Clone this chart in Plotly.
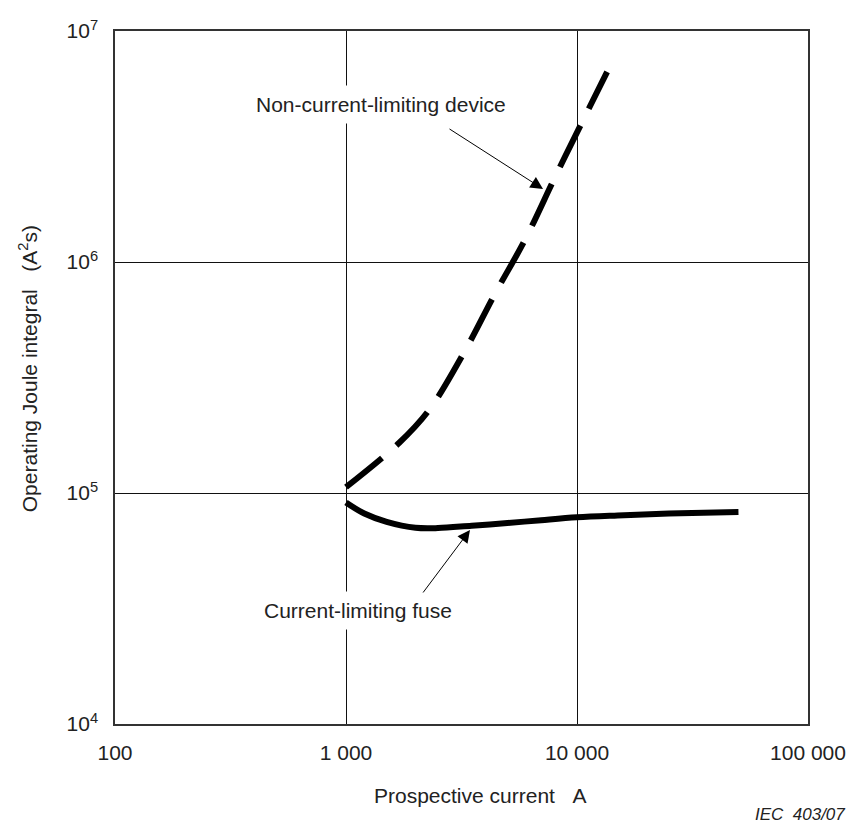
import plotly.graph_objects as go

# Data
fuse_current = [1000, 1200, 1500, 2000, 2500, 3500, 5000, 7000, 10000, 15000, 25000, 50000]
fuse_joule = [9.1e4, 8.15e4, 7.5e4, 7.07e4, 7.05e4, 7.22e4, 7.41e4, 7.63e4, 7.85e4, 8.0e4, 8.15e4, 8.28e4]

ncl_current = [1000, 1700, 2290, 3240, 4420, 5960, 8030, 10800, 13500]
ncl_joule = [1.06e5, 1.65e5, 2.29e5, 4.05e5, 7.3e5, 1.25e6, 2.33e6, 4.25e6, 6.65e6]

x_tickvals = [100, 1000, 10000, 100000]
x_ticktext = ["100", "1 000", "10 000", "100 000"]
y_tickvals = [1e4, 1e5, 1e6, 1e7]
y_ticktext = ["10<sup>4</sup>", "10<sup>5</sup>", "10<sup>6</sup>", "10<sup>7</sup>"]

FONT = "Liberation Sans, Arial, Helvetica, sans-serif"
TXT = "#222222"
NB = "\u00a0"

fig = go.Figure()
fig.add_trace(go.Scatter(
    x=ncl_current, y=ncl_joule, mode="lines",
    line=dict(color="black", width=6, dash="46px,19px", shape="spline", smoothing=1.0),
    showlegend=False, hoverinfo="skip"))
fig.add_trace(go.Scatter(
    x=fuse_current, y=fuse_joule, mode="lines",
    line=dict(color="black", width=6, shape="spline", smoothing=1.0),
    showlegend=False, hoverinfo="skip"))

axis_common = dict(
    type="log", showgrid=True, gridcolor="#111111", gridwidth=1,
    showline=True, linecolor="#333333", linewidth=1.5, mirror=True,
    zeroline=False, ticks="outside", tickcolor="rgba(0,0,0,0)",
    tickfont=dict(family=FONT, size=21, color=TXT), tickmode="array",
    automargin=False)

fig.update_layout(
    width=849, height=823,
    margin=dict(l=115, r=41, t=31, b=99, autoexpand=False),
    paper_bgcolor="white", plot_bgcolor="white",
    xaxis=dict(range=[2, 5], tickvals=x_tickvals, ticktext=x_ticktext, ticklen=9, **axis_common),
    yaxis=dict(range=[4, 7], tickvals=y_tickvals, ticktext=y_ticktext, ticklen=11, **axis_common),
    font=dict(family=FONT, size=21, color=TXT),
)

annotations = [
    # curve labels
    dict(x=3.1515, y=6.680, xref="x", yref="y", text="Non-current-limiting device",
         showarrow=False, bgcolor="white", borderpad=7, font=dict(size=21, color=TXT, family=FONT)),
    dict(x=3.054, y=4.4935, xref="x", yref="y", text="Current-limiting fuse",
         showarrow=False, bgcolor="white", borderpad=7, font=dict(size=21, color=TXT, family=FONT)),
    # arrows
    dict(x=3.853, y=6.316, xref="x", yref="y", ax=3.4416, ay=6.580, axref="x", ayref="y",
         text="", showarrow=True, arrowhead=2, arrowsize=2.5, arrowwidth=1, arrowcolor="black"),
    dict(x=3.5368, y=4.840, xref="x", yref="y", ax=3.329, ay=4.5628, axref="x", ayref="y",
         text="", showarrow=True, arrowhead=2, arrowsize=2.5, arrowwidth=1, arrowcolor="black"),
    # axis titles
    dict(x=0.526, y=-0.1025, xref="paper", yref="paper", xanchor="center", yanchor="middle",
         text="Prospective current" + NB * 3 + "A", showarrow=False,
         font=dict(size=21, color=TXT, family=FONT)),
    dict(x=-0.1255, y=0.512, xref="paper", yref="paper", xanchor="center", yanchor="middle",
         text="Operating Joule integral" + NB * 3 + "(A<sup>2</sup>s)", textangle=-90, showarrow=False,
         font=dict(size=21, color=TXT, family=FONT)),
    dict(x=1.056, y=-0.131, xref="paper", yref="paper", xanchor="right", yanchor="middle",
         text="<i>IEC" + NB * 2 + "403/07</i>", showarrow=False,
         font=dict(size=17, color=TXT, family=FONT)),
]
fig.update_layout(annotations=annotations)

fig.write_html(
    "out.html",
    config={"displayModeBar": False},
    post_script="document.body.style.margin='0';document.body.style.padding='0';"
                "document.documentElement.style.margin='0';document.body.style.overflow='hidden';",
)
